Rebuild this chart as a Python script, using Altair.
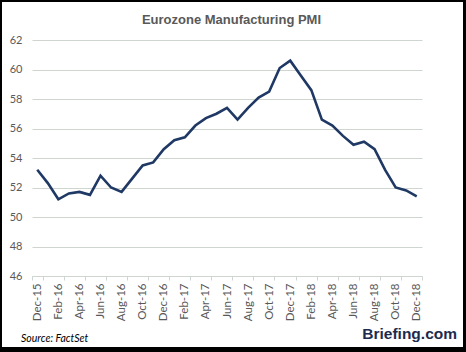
import altair as alt
import pandas as pd

months = ["Dec-15", "Jan-16", "Feb-16", "Mar-16", "Apr-16", "May-16", "Jun-16", "Jul-16",
          "Aug-16", "Sep-16", "Oct-16", "Nov-16", "Dec-16", "Jan-17", "Feb-17", "Mar-17",
          "Apr-17", "May-17", "Jun-17", "Jul-17", "Aug-17", "Sep-17", "Oct-17", "Nov-17",
          "Dec-17", "Jan-18", "Feb-18", "Mar-18", "Apr-18", "May-18", "Jun-18", "Jul-18",
          "Aug-18", "Sep-18", "Oct-18", "Nov-18", "Dec-18"]
pmi = [53.2, 52.3, 51.2, 51.6, 51.7, 51.5, 52.8, 52.0,
       51.7, 52.6, 53.5, 53.7, 54.6, 55.2, 55.4, 56.2,
       56.7, 57.0, 57.4, 56.6, 57.4, 58.1, 58.5, 60.1,
       60.6, 59.6, 58.6, 56.6, 56.2, 55.5, 54.9, 55.1,
       54.6, 53.2, 52.0, 51.8, 51.4]
y_ticks = [46, 48, 50, 52, 54, 56, 58, 60, 62]
x_labels = months[::2]
title_text = "Eurozone Manufacturing PMI"
source_text = "Source: FactSet"
brand_text = "Briefing.com"

df = pd.DataFrame({"month": months, "pmi": pmi})
one = pd.DataFrame({"k": [0]})

GRID = "#cfd6cf"
TXT = "#595959"

line = alt.Chart(df).mark_line(color="#1f3864", strokeWidth=2.6, strokeJoin="miter").encode(
    x=alt.X("month:O", sort=months,
            scale=alt.Scale(type="band", paddingInner=0, paddingOuter=0),
            axis=alt.Axis(title=None, values=x_labels, labelAngle=-90, labelAlign="right",
                          labelBaseline="middle", labelFont="Lato", labelFontSize=11.5,
                          labelColor=TXT, labelPadding=3, domainColor=GRID, tickColor=GRID,
                          tickSize=4, tickBand="extent", grid=False)),
    y=alt.Y("pmi:Q", scale=alt.Scale(domain=[46, 62], nice=False, zero=False),
            axis=alt.Axis(title=None, values=y_ticks, labelFont="Lato", labelFontSize=11,
                          labelColor=TXT, domain=False, ticks=False, tickSize=0,
                          labelPadding=10, gridColor=GRID, gridWidth=1)),
)

ann = alt.Chart(one)

title = ann.mark_text(text=title_text, font="Liberation Sans", fontSize=13, fontWeight="bold",
                      align="center", baseline="alphabetic", color=TXT).encode(
    x=alt.value(199.5), y=alt.value(-16))
source = ann.mark_text(text=source_text, font="Lato", fontSize=10.5, fontStyle="italic",
                       align="left", baseline="alphabetic", color="#000000").encode(
    x=alt.value(-11), y=alt.value(302))
brand = ann.mark_text(text=brand_text, font="Liberation Sans", fontSize=15.5,
                      fontWeight="bold", align="right", baseline="alphabetic",
                      color="#1c2b4e").encode(x=alt.value(425), y=alt.value(299))

def rule(x, x2, y, y2, w):
    return ann.mark_rule(color="#000000", strokeWidth=w).encode(
        x=alt.value(x), x2=alt.value(x2), y=alt.value(y), y2=alt.value(y2))

border = (rule(-32, 434, -39, -39, 2) + rule(-31, -31, -40, 312, 2)
          + rule(432.5, 432.5, -40, 312, 3) + rule(-32, 434, 309.5, 309.5, 5))

chart = alt.layer(line, title, source, brand, border).properties(
    width=390, height=236,
    padding={"left": 32, "top": 40, "right": 44, "bottom": 76},
    autosize=alt.AutoSizeParams(type="none"),
    background="#ffffff",
).configure_view(stroke=None)

chart.save("out.html", embed_options={"renderer": "svg", "actions": False})
